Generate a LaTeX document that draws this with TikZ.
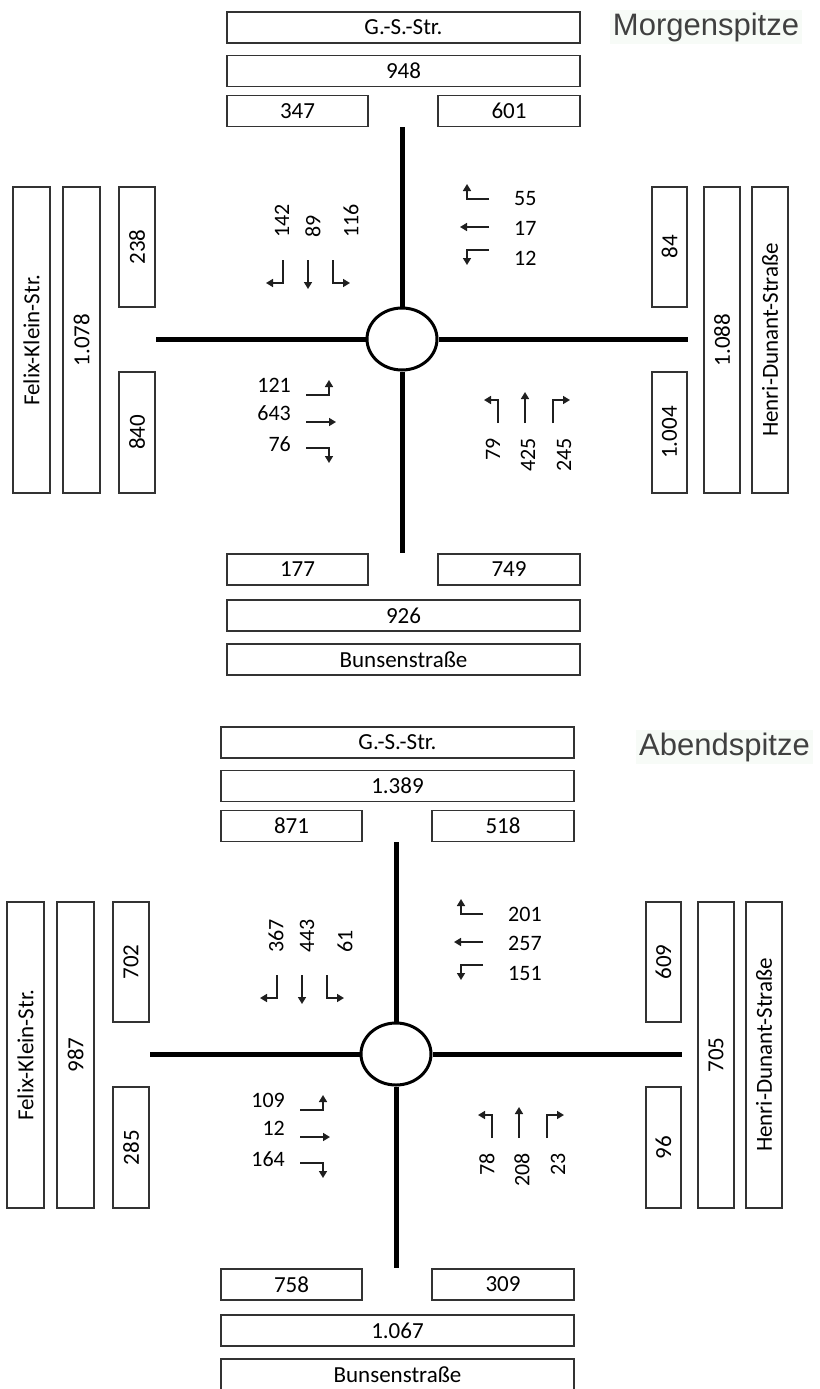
\documentclass[tikz,border=0pt]{standalone}
\usepackage{fontspec}
\setmainfont{Carlito}
\newfontfamily\kztitlefont{Liberation Sans}
\usetikzlibrary{shapes.geometric,arrows.meta}
\tikzset{
  hbox/.style={draw=black!80, line width=1.5pt, minimum height=31pt, inner sep=0pt,
               font=\fontsize{23}{26}\selectfont, text=black},
  vbox/.style={hbox, rotate=90},
  road/.style={line width=5pt, draw=black},
  ring/.style={ellipse, draw=black, line width=3pt, minimum width=70pt, minimum height=62pt, inner sep=0pt},
  lane/.style={draw=black!88, line width=1.6pt, -{Triangle[length=7pt,width=8pt]}},
  lbl/.style={inner sep=0pt, font=\fontsize{22}{25}\selectfont, text=black},
  ttl/.style={font=\kztitlefont\fontsize{31}{36}\selectfont, text=black!75,
              fill={rgb,255:red,247;green,251;blue,247}, inner sep=3pt},
}
\newcommand\kreuzung[3]{%
\begin{scope}[shift={(#2,#3)}]
  % north
  \node[hbox, minimum width=353pt] (#1-gs) at (403.5,27.5) {G.-S.-Str.};
  \node[hbox, minimum width=353pt] (#1-n) at (403.5,71) {\kzN};
  \node[hbox, minimum width=141pt] (#1-na) at (297.5,111) {\kzNa};
  \node[hbox, minimum width=142pt] (#1-nb) at (509,111) {\kzNb};
  % west
  \node[vbox, minimum width=306pt, minimum height=37pt] (#1-fk) at (31.5,340) {Felix-Klein-Str.};
  \node[vbox, minimum width=306pt, minimum height=37pt] (#1-w) at (81.5,340) {\kzW};
  \node[vbox, minimum width=120pt, minimum height=36pt] (#1-wa) at (137,247) {\kzWa};
  \node[vbox, minimum width=121pt, minimum height=36pt] (#1-wb) at (137,432.5) {\kzWb};
  % east
  \node[vbox, minimum width=120pt, minimum height=35pt] (#1-ea) at (669.5,247) {\kzEa};
  \node[vbox, minimum width=121pt, minimum height=35pt] (#1-eb) at (669.5,432.5) {\kzEb};
  \node[vbox, minimum width=306pt, minimum height=36pt] (#1-e) at (722,340) {\kzE};
  \node[vbox, minimum width=306pt, minimum height=36pt] (#1-hd) at (770,340) {Henri-Dunant-Straße};
  % south
  \node[hbox, minimum width=141pt] (#1-sa) at (297.5,569.5) {\kzSa};
  \node[hbox, minimum width=142pt] (#1-sb) at (509,569.5) {\kzSb};
  \node[hbox, minimum width=353pt] (#1-s) at (403.5,615.5) {\kzS};
  \node[hbox, minimum width=353pt] (#1-bu) at (403.5,659.5) {Bunsenstraße};
  % crossing
  \node[ring] (#1-c) at (402,339) {};
  \draw[road] (#1-c.north) -- (#1-c.north |- #1-na.south);
  \draw[road] (#1-c.south) -- (#1-c.south |- #1-sa.north);
  \draw[road] (#1-c.west) -- (#1-c.west -| #1-wa.south);
  \draw[road] (#1-c.east) -- (#1-c.east -| #1-ea.south);
  % southbound lanes
  \draw[lane] (283,260) -- (283,283) -- (266,283);
  \draw[lane] (308,260) -- (308,289);
  \draw[lane] (333,260) -- (333,283) -- (350,283);
  \node[lbl, rotate=90, anchor=west] (#1-sbl) at (282,238) {\kzSbL};
  \node[lbl, rotate=90, anchor=west] (#1-sbs) at (313,238) {\kzSbS};
  \node[lbl, rotate=90, anchor=west] (#1-sbr) at (351,238) {\kzSbR};
  % westbound lanes
  \draw[lane] (489,199) -- (467,199) -- (467,184);
  \draw[lane] (489,227) -- (460,227);
  \draw[lane] (489,250) -- (467,250) -- (467,265);
  \node[lbl, anchor=west] (#1-wbl) at (514,199) {\kzWbL};
  \node[lbl, anchor=west] (#1-wbs) at (514,228) {\kzWbS};
  \node[lbl, anchor=west] (#1-wbr) at (514,258) {\kzWbR};
  % eastbound lanes
  \draw[lane] (306,395) -- (329,395) -- (329,380);
  \draw[lane] (306,422) -- (336,422);
  \draw[lane] (306,448) -- (329,448) -- (329,463);
  \node[lbl, anchor=east] (#1-ebl) at (291,385) {\kzEbL};
  \node[lbl, anchor=east] (#1-ebs) at (291,413) {\kzEbS};
  \node[lbl, anchor=east] (#1-ebr) at (291,444) {\kzEbR};
  % northbound lanes
  \draw[lane] (498,423) -- (498,400) -- (484,400);
  \draw[lane] (525,423) -- (525,392);
  \draw[lane] (553,423) -- (553,400) -- (570,400);
  \node[lbl, rotate=90, anchor=east] (#1-nbl) at (493,438) {\kzNbL};
  \node[lbl, rotate=90, anchor=east] (#1-nbs) at (528,438) {\kzNbS};
  \node[lbl, rotate=90, anchor=east] (#1-nbr) at (564,438) {\kzNbR};
\end{scope}}

\begin{document}
\begin{tikzpicture}[x=1pt,y=-1pt]
  \useasboundingbox (0,0) rectangle (819,1389);
  \fill[white] (0,0) rectangle (819,1389);

  \node[ttl] (morgen) at (706,27) {Morgenspitze};
  \node[ttl, anchor=west] (abend) at (636,747) {Abendspitze};

  \def\kzN{948}\def\kzNa{347}\def\kzNb{601}
  \def\kzW{1.078}\def\kzWa{238}\def\kzWb{840}
  \def\kzE{1.088}\def\kzEa{84}\def\kzEb{1.004}
  \def\kzS{926}\def\kzSa{177}\def\kzSb{749}
  \def\kzSbL{142}\def\kzSbS{89}\def\kzSbR{116}
  \def\kzWbL{55}\def\kzWbS{17}\def\kzWbR{12}
  \def\kzEbL{121}\def\kzEbS{643}\def\kzEbR{76}
  \def\kzNbL{79}\def\kzNbS{425}\def\kzNbR{245}
  \kreuzung{m}{0}{0}

  \def\kzN{1.389}\def\kzNa{871}\def\kzNb{518}
  \def\kzW{987}\def\kzWa{702}\def\kzWb{285}
  \def\kzE{705}\def\kzEa{609}\def\kzEb{96}
  \def\kzS{1.067}\def\kzSa{758}\def\kzSb{309}
  \def\kzSbL{367}\def\kzSbS{443}\def\kzSbR{61}
  \def\kzWbL{201}\def\kzWbS{257}\def\kzWbR{151}
  \def\kzEbL{109}\def\kzEbS{12}\def\kzEbR{164}
  \def\kzNbL{78}\def\kzNbS{208}\def\kzNbR{23}
  \kreuzung{a}{-6}{715}
\end{tikzpicture}
\end{document}
